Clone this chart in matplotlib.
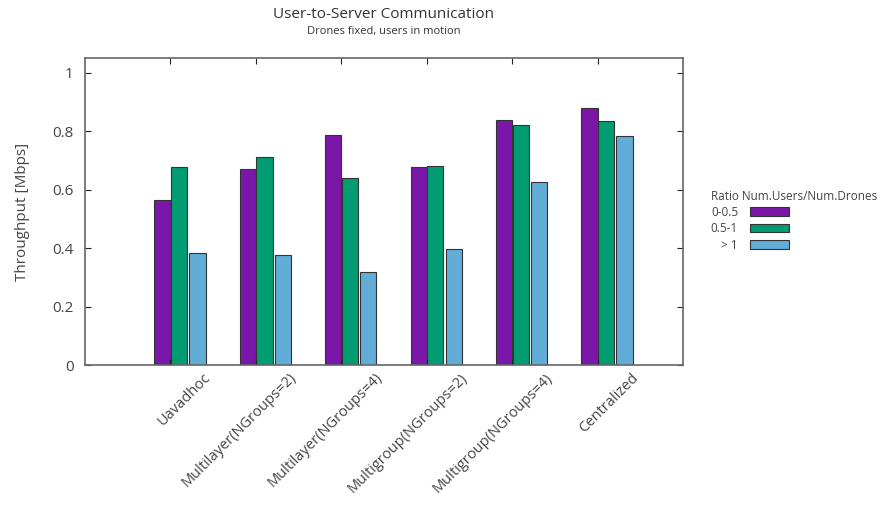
import matplotlib
matplotlib.use("Agg")
import matplotlib.pyplot as plt
import matplotlib.transforms as mtransforms
import numpy as np

plt.rcParams['font.family'] = ['Open Sans', 'DejaVu Sans']

# Throughput per approach, one list per users/drones ratio
approaches = ["Uavadhoc", "Multilayer(NGroups=2)", "Multilayer(NGroups=4)",
              "Multigroup(NGroups=2)", "Multigroup(NGroups=4)", "Centralized"]
ratio_low = [0.565, 0.672, 0.787, 0.676, 0.839, 0.879]    # 0-0.5
ratio_mid = [0.678, 0.712, 0.641, 0.679, 0.821, 0.833]    # 0.5-1
ratio_high = [0.382, 0.376, 0.318, 0.397, 0.627, 0.784]   # > 1
series_labels = ["0-0.5", "0.5-1", "> 1"]
yticks = [0, 0.2, 0.4, 0.6, 0.8, 1]

colors = ["#7b17a8", "#019c72", "#62acd8"]
text_col = "#444444"
frame_col = "#666666"

fig = plt.figure(figsize=(8.92, 5.05), dpi=100)
ax = fig.add_axes([0.0953, 0.2772, 0.6704, 0.608])

x = np.arange(len(approaches))
w = 0.19
offsets = [-0.094, 0.1, 0.316]
for vals, off, c, lab in zip([ratio_low, ratio_mid, ratio_high], offsets, colors, series_labels):
    ax.bar(x + off, vals, width=w, color=c, edgecolor="#333333", linewidth=0.8, label=lab)

ax.set_xlim(-1, 6)
ax.set_ylim(0, 1.05)
ax.set_yticks(yticks)
ax.set_yticklabels(["0", "0.2", "0.4", "0.6", "0.8", "1"], fontsize=11, color=text_col)
ax.set_xticks(x)
ax.set_xticklabels([])

# rotated category names, anchored a bit to the right of each tick
shift = mtransforms.ScaledTranslation(33 / 100, -5 / 100, fig.dpi_scale_trans)
label_tr = ax.get_xaxis_transform() + shift
for xi, name in zip(x, approaches):
    ax.text(xi, 0, name, transform=label_tr, rotation=45, ha="right", va="top",
            rotation_mode="anchor", fontsize=10.5, color=text_col)

ax.tick_params(direction="in", top=True, right=True, length=4, color="#222222", pad=8)
for sp in ax.spines.values():
    sp.set_color(frame_col)
    sp.set_linewidth(1.2)

ax.set_ylabel("Throughput [Mbps]", fontsize=11, color=text_col, labelpad=16)

fig.text(0.43, 0.972, "User-to-Server Communication", ha="center", va="center",
         fontsize=11, color="#333333")
fig.text(0.43, 0.937, "Drones fixed, users in motion", ha="center", va="center",
         fontsize=8, color="#333333")

leg = ax.legend(loc="upper left", bbox_to_anchor=(0.785, 0.645),
                bbox_transform=fig.transFigure, frameon=False, markerfirst=False,
                title="Ratio Num.Users/Num.Drones", fontsize=8.5, title_fontsize=8.5,
                handlelength=3.3, handleheight=0.7, handletextpad=1.0,
                labelspacing=0.3, alignment="left")
leg._legend_box.sep = 2
for t in leg.get_texts():
    t.set_color(text_col)
leg.get_title().set_color(text_col)

fig.savefig("out.png", dpi=100)
